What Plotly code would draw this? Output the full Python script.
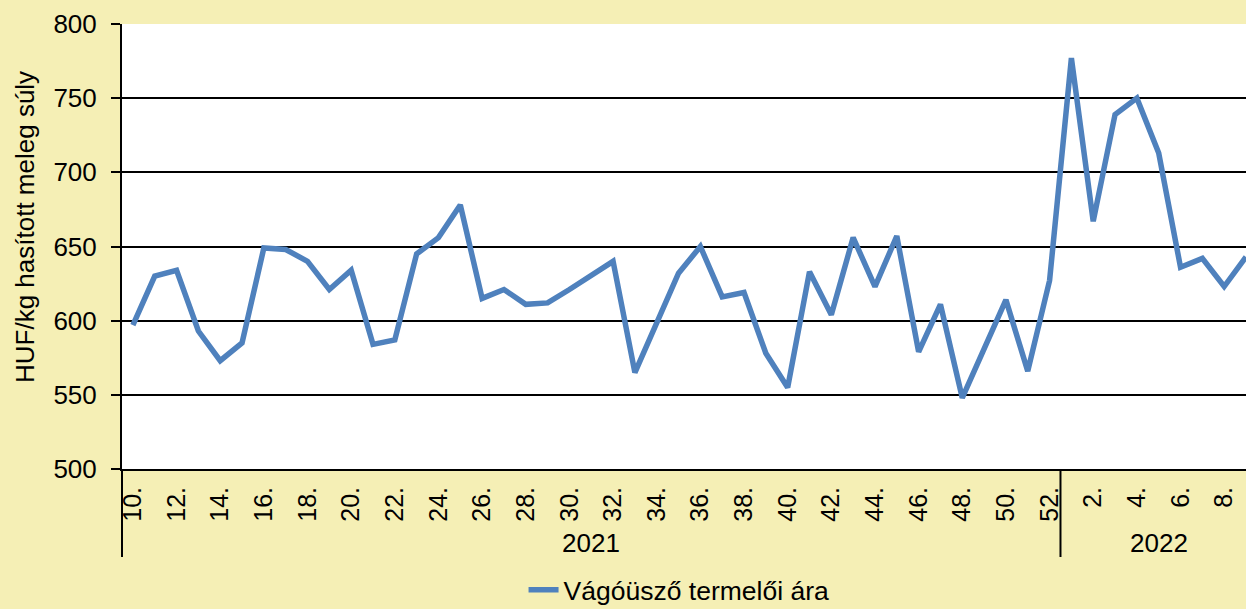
import plotly.graph_objects as go

# ---- data ----
weeks_2021 = list(range(10, 53))
weeks_2022 = list(range(1, 10))
prices_2021 = [597, 630, 634, 593, 573, 585, 649, 648, 640, 621,
               634, 584, 587, 645, 656, 678, 615, 621, 611, 612,
               621, 631, 640, 565, 598, 632, 650, 616, 619, 578,
               555, 633, 604, 656, 623, 657, 579, 611, 548, 581,
               614, 566, 627]
prices_2022 = [777, 667, 739, 750, 713, 636, 642, 623, 643]
years = ["2021", "2022"]
series_name = "Vágóüsző termelői ára"
y_title = "HUF/kg hasított meleg súly"

week_labels = [f"{w}." for w in weeks_2021] + [f"{w}." for w in weeks_2022]
values = prices_2021 + prices_2022
n = len(values)

BG = "#F5EFB5"
LINE = "#4F81BD"
FONT = "Liberation Sans, Arial, sans-serif"
FS = 25

fig = go.Figure()
fig.add_trace(go.Scatter(
    x=list(range(n)), y=values, mode="lines", name=series_name,
    line=dict(color=LINE, width=5.5), showlegend=True,
))

tickvals = list(range(0, n, 2))
ticktext = [week_labels[i] for i in tickvals]

plot_h = 609 - 24 - 140
x_lo, x_hi = -0.5, n - 1  # chart is cropped at the last point on the right

fig.update_layout(
    width=1246, height=609,
    margin=dict(l=122, r=0, t=24, b=140, autoexpand=False),
    paper_bgcolor=BG, plot_bgcolor="white",
    font=dict(family=FONT, size=FS, color="black"),
    showlegend=True,
    legend=dict(orientation="h", x=0.4956, xanchor="center",
                y=-(614 - 469) / plot_h, yanchor="bottom",
                font=dict(size=26.5), bgcolor="rgba(0,0,0,0)"),
    xaxis=dict(
        range=[x_lo, x_hi], tickmode="array", tickvals=tickvals,
        ticktext=ticktext, tickangle=-90, showgrid=False, zeroline=False,
        showline=True, linecolor="black", linewidth=2, ticks="",
        tickfont=dict(size=FS), ticklabelstandoff=6, automargin=False,
    ),
    yaxis=dict(
        range=[500, 800], dtick=50, showgrid=True, gridcolor="black",
        gridwidth=2, zeroline=False, showline=True, linecolor="black",
        linewidth=2, ticks="outside", ticklen=9, tickwidth=2,
        tickcolor="black", tickfont=dict(size=26), automargin=False,
        ticklabelstandoff=9,
    ),
)

# year group separators and labels (positions derived from data lengths)
n21 = len(weeks_2021)
span = x_hi - x_lo
sep_bottom = -88 / plot_h
for idx in [0, n21]:
    xp = (idx - 0.5 - x_lo) / span
    fig.add_shape(type="line", xref="paper", yref="paper", x0=xp, x1=xp,
                  y0=0, y1=sep_bottom, line=dict(color="black", width=2))

fig.add_annotation(x=(n21 - 1) / 2, y=-74 / plot_h, xref="x", yref="paper",
                   text=years[0], showarrow=False, font=dict(size=26),
                   yanchor="middle")
fig.add_annotation(x=n21 + (len(weeks_2022) - 1) / 2, y=-74 / plot_h,
                   xref="x", yref="paper", text=years[1], showarrow=False,
                   font=dict(size=26), yanchor="middle")

fig.add_annotation(x=-(122 - 25) / 1124, y=(469 - 227) / plot_h,
                   xref="paper", yref="paper", text=y_title, textangle=-90,
                   showarrow=False, font=dict(size=26), xanchor="center",
                   yanchor="middle")

fig.write_html("out.html", config={"displayModeBar": False},
               post_script="document.body.style.margin='0';")
